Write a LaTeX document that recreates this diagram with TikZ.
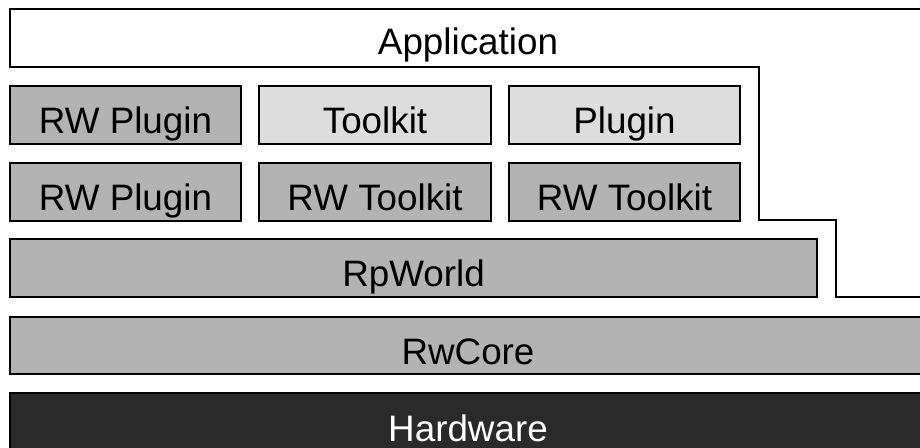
\documentclass[tikz,border=0pt]{standalone}
\usepackage{fontspec}
\setmainfont{Liberation Sans}
\usepackage{tikz}
\usetikzlibrary{positioning}
\definecolor{layergray}{HTML}{B3B3B3}
\definecolor{toolgray}{HTML}{DDDDDD}
\definecolor{hwgray}{HTML}{2A2A2A}

\begin{document}
\begin{tikzpicture}[x=0.5pt, y=-0.5pt,
                    layer/.style={draw=black, line width=1pt, fill=layergray, inner sep=0pt,
                                  minimum height=29pt, text height=19pt, text depth=0pt,
                                  font=\fontsize{18.4}{22}\selectfont},
                    user/.style={layer, fill=toolgray},
                    hw/.style={layer, fill=hwgray, text=white},
                    outline/.style={draw=black, line width=0.8pt}]
                    \useasboundingbox (0,0) rectangle (920,448);

                    % Application band
                    \node[font=\fontsize{18.4}{22}\selectfont, inner sep=0pt, text height=17pt, text depth=0pt] (app) at (468, 38) {Application};
                    \coordinate (a0) at (930, 9);   \coordinate (a1) at (10, 9);
                    \coordinate (a2) at (10, 67);   \coordinate (a3) at (759, 67);
                    \coordinate (a4) at (759, 220); \coordinate (a5) at (836, 220);
                    \coordinate (a6) at (836, 297); \coordinate (a7) at (930, 297);
                    \draw[outline] (a0) -- (a1) -- (a2) -- (a3) -- (a4) -- (a5) -- (a6) -- (a7);

                    % Upper row
                    \node[layer, minimum width=115.5pt] (rwplugA) at (125.5, 115) {RW Plugin};
                    \node[user,  minimum width=116pt]   (toolkit) at (375, 115)   {Toolkit};
                    \node[user,  minimum width=115.5pt] (plugin)  at (624.5, 115) {Plugin};

                    % Lower row
                    \node[layer, minimum width=115.5pt] (rwplugB) at (125.5, 192) {RW Plugin};
                    \node[layer, minimum width=116pt]   (rwtoolA) at (375, 192)   {RW Toolkit};
                    \node[layer, minimum width=115.5pt] (rwtoolB) at (624.5, 192) {RW Toolkit};

                    % Base layers
                    \node[layer, minimum width=403.5pt] (rpworld) at (413.5, 268) {RpWorld};
                    \node[layer, minimum width=458pt, minimum height=28.5pt] (rwcore) at (468, 345.5) {RwCore};
                    \node[hw, minimum width=458pt] (hardware) at (468, 422) {Hardware};

\end{tikzpicture}
\end{document}
